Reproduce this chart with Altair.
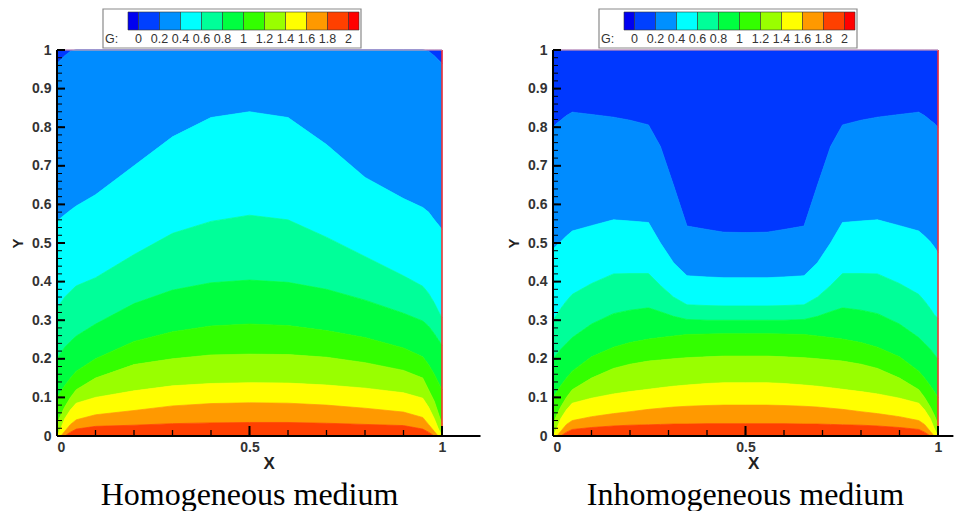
import altair as alt
import pandas as pd

# ---------------- data ----------------
levels = [0.2, 0.4, 0.6, 0.8, 1.0, 1.2, 1.4, 1.6, 1.8]
band_names = ["0-0.2", "0.2-0.4", "0.4-0.6", "0.6-0.8", "0.8-1", "1-1.2",
              "1.2-1.4", "1.4-1.6", "1.6-1.8", "1.8-2"]
band_colors = ["#0038ff", "#008cff", "#00ffff", "#00ff99", "#00ff40", "#33ff00",
               "#99ff00", "#ffff00", "#ff9900", "#ff4000"]

legend_edges = [-0.1, 0.0, 0.2, 0.4, 0.6, 0.8, 1.0, 1.2, 1.4, 1.6, 1.8, 2.0, 2.1]
legend_colors = ["#0000f0", "#0040ff", "#0090ff", "#00ffff", "#00ff99", "#00ff40",
                 "#33ff00", "#99ff00", "#ffff00", "#ff9900", "#ff4000", "#ff0000"]
legend_ticks = [0.0, 0.2, 0.4, 0.6, 0.8, 1.0, 1.2, 1.4, 1.6, 1.8, 2.0]
legend_labels = ["0", "0.2", "0.4", "0.6", "0.8", "1", "1.2", "1.4", "1.6", "1.8", "2"]

# Homogeneous medium: contour line heights (y) of each G level along x
xL = [0, 0.01, 0.02, 0.035, 0.05, 0.1, 0.2, 0.3, 0.4, 0.5, 0.6, 0.7, 0.8, 0.9,
      0.95, 0.965, 0.98, 0.99, 1.0]
contL = {
    0.2: [0.965, 0.975, 0.985, 0.997, 1, 1, 1, 1, 1, 1, 1, 1, 1, 1, 1, 0.997, 0.985, 0.975, 0.965],
    0.4: [0.557, 0.565, 0.573, 0.585, 0.596, 0.625, 0.70, 0.775, 0.825, 0.84, 0.825, 0.755,
          0.67, 0.615, 0.592, 0.58, 0.56, 0.548, 0.535],
    0.6: [0.33, 0.345, 0.36, 0.375, 0.389, 0.41, 0.47, 0.525, 0.556, 0.572, 0.56, 0.515,
          0.465, 0.415, 0.388, 0.37, 0.345, 0.325, 0.306],
    0.8: [0.2, 0.215, 0.23, 0.245, 0.259, 0.29, 0.343, 0.378, 0.397, 0.404, 0.398, 0.38,
          0.352, 0.318, 0.298, 0.285, 0.265, 0.25, 0.235],
    1.0: [0.1, 0.115, 0.13, 0.15, 0.168, 0.2, 0.245, 0.27, 0.285, 0.29, 0.286, 0.273,
          0.255, 0.228, 0.205, 0.185, 0.16, 0.14, 0.12],
    1.2: [0.03, 0.055, 0.075, 0.1, 0.12, 0.15, 0.185, 0.2, 0.21, 0.212, 0.211, 0.204,
          0.19, 0.17, 0.15, 0.12, 0.09, 0.06, 0.03],
    1.4: [0.0, 0.02, 0.045, 0.068, 0.085, 0.1, 0.117, 0.13, 0.136, 0.138, 0.137, 0.132,
          0.124, 0.112, 0.098, 0.075, 0.045, 0.02, 0.0],
    1.6: [0.0, 0.0, 0.012, 0.03, 0.042, 0.055, 0.066, 0.078, 0.084, 0.086, 0.085, 0.08,
          0.072, 0.062, 0.048, 0.03, 0.012, 0.0, 0.0],
    1.8: [0.0, 0.0, 0.0, 0.01, 0.018, 0.025, 0.028, 0.032, 0.034, 0.035, 0.035, 0.033,
          0.03, 0.027, 0.018, 0.01, 0.0, 0.0, 0.0],
}

# Inhomogeneous medium
xR = [0, 0.01, 0.02, 0.035, 0.05, 0.1, 0.157, 0.2, 0.248, 0.279, 0.313, 0.348, 0.4,
      0.444, 0.5, 0.556, 0.6, 0.652, 0.687, 0.721, 0.752, 0.8, 0.843, 0.9, 0.95, 0.965,
      0.98, 0.99, 1.0]
contR = {
    0.2: [0.80, 0.81, 0.818, 0.83, 0.839, 0.833, 0.826, 0.818, 0.806, 0.75, 0.65, 0.544,
          0.535, 0.528, 0.527, 0.528, 0.535, 0.544, 0.65, 0.75, 0.806, 0.818, 0.826, 0.833,
          0.839, 0.83, 0.818, 0.81, 0.80],
    0.4: [0.484, 0.494, 0.503, 0.518, 0.531, 0.545, 0.56, 0.557, 0.553, 0.5, 0.449, 0.415,
          0.412, 0.41, 0.41, 0.41, 0.412, 0.415, 0.449, 0.5, 0.553, 0.557, 0.56, 0.545,
          0.531, 0.518, 0.503, 0.49, 0.475],
    0.6: [0.30, 0.315, 0.33, 0.35, 0.367, 0.395, 0.42, 0.421, 0.421, 0.39, 0.36, 0.34,
          0.338, 0.337, 0.337, 0.337, 0.338, 0.34, 0.36, 0.39, 0.421, 0.421, 0.42, 0.395,
          0.367, 0.35, 0.33, 0.315, 0.305],
    0.8: [0.20, 0.212, 0.225, 0.24, 0.255, 0.29, 0.317, 0.326, 0.332, 0.322, 0.31, 0.302,
          0.3, 0.3, 0.3, 0.3, 0.3, 0.302, 0.31, 0.322, 0.332, 0.326, 0.317, 0.29, 0.255,
          0.24, 0.225, 0.212, 0.20],
    1.0: [0.10, 0.115, 0.13, 0.15, 0.168, 0.205, 0.23, 0.242, 0.251, 0.255, 0.259, 0.263,
          0.264, 0.265, 0.265, 0.265, 0.264, 0.263, 0.259, 0.255, 0.251, 0.242, 0.23, 0.205,
          0.168, 0.15, 0.13, 0.115, 0.10],
    1.2: [0.03, 0.055, 0.075, 0.1, 0.12, 0.15, 0.175, 0.186, 0.194, 0.197, 0.2, 0.203,
          0.205, 0.207, 0.207, 0.207, 0.205, 0.203, 0.2, 0.197, 0.194, 0.186, 0.175, 0.15,
          0.12, 0.1, 0.075, 0.055, 0.03],
    1.4: [0.0, 0.02, 0.045, 0.068, 0.085, 0.098, 0.109, 0.115, 0.121, 0.125, 0.129, 0.132,
          0.136, 0.138, 0.138, 0.138, 0.136, 0.132, 0.129, 0.125, 0.121, 0.115, 0.109, 0.098,
          0.085, 0.068, 0.045, 0.02, 0.0],
    1.6: [0.0, 0.0, 0.012, 0.03, 0.04, 0.05, 0.058, 0.063, 0.069, 0.072, 0.075, 0.077,
          0.079, 0.08, 0.08, 0.08, 0.079, 0.077, 0.075, 0.072, 0.069, 0.063, 0.058, 0.05,
          0.04, 0.03, 0.012, 0.0, 0.0],
    1.8: [0.0, 0.0, 0.0, 0.01, 0.017, 0.022, 0.026, 0.028, 0.029, 0.03, 0.031, 0.031,
          0.032, 0.032, 0.032, 0.032, 0.032, 0.031, 0.031, 0.03, 0.029, 0.028, 0.026, 0.022,
          0.017, 0.01, 0.0, 0.0, 0.0],
}

y_major = [0, 0.1, 0.2, 0.3, 0.4, 0.5, 0.6, 0.7, 0.8, 0.9, 1]
y_minor = [round(i * 0.02, 2) for i in range(51)]
x_major = [0, 0.5, 1]
x_minor = [0, 0.1, 0.2, 0.3, 0.4, 0.5, 0.6, 0.7, 0.8, 0.9, 1]

# ---------------- layout ----------------
U = 385.0      # pixels per unit of x
H = 386        # plot height
LPX = 105.0    # legend pixels per G unit
LEG_START = 71.0  # legend boxes start (px from plot left)

LABEL_FONT = "Liberation Sans"


def band_frame(xs, cont):
    rows = []
    n = len(xs)
    for i, name in enumerate(band_names):
        hi = [1.0] * n if i == 0 else cont[levels[i - 1]]
        lo = cont[levels[i]] if i < len(levels) else [0.0] * n
        for x, a, b in zip(xs, lo, hi):
            rows.append({"x": x, "lo": a, "hi": b, "band": name})
    return pd.DataFrame(rows)


def panel(xs, cont, xmax, caption):
    W = U * xmax
    xsc = alt.Scale(domain=[0, xmax], nice=False, zero=False)
    ysc = alt.Scale(domain=[0, 1], nice=False, zero=False)
    d0 = -0.1 - LEG_START / LPX
    lsc = alt.Scale(domain=[d0, d0 + W / LPX], nice=False, zero=False)

    df = band_frame(xs, cont)
    cscale = alt.Scale(domain=band_names, range=band_colors)
    bands = alt.Chart(df).mark_area(interpolate="linear", strokeWidth=0.7).encode(
        x=alt.X("x:Q", scale=xsc, axis=None),
        y=alt.Y("hi:Q", scale=ysc, axis=None),
        y2="lo:Q",
        color=alt.Color("band:N", scale=cscale, legend=None),
        stroke=alt.Stroke("band:N", scale=cscale, legend=None),
    )

    right_border = alt.Chart(pd.DataFrame({"x": [1.0]})).mark_rule(
        color="#ff2a2a", strokeWidth=1.5).encode(
        x=alt.X("x:Q", scale=xsc, axis=None), y=alt.value(0), y2=alt.value(H))
    top_border = alt.Chart(pd.DataFrame({"x0": [0.0], "x1": [1.0], "y": [1.0]})).mark_rule(
        color="#f5a3a3", strokeWidth=1).encode(
        x=alt.X("x0:Q", scale=xsc, axis=None), x2="x1:Q",
        y=alt.Y("y:Q", scale=ysc, axis=None))

    # axis lines and inward ticks
    yline = alt.Chart(pd.DataFrame({"a": [0.0], "b": [1.0]})).mark_rule(
        color="black", strokeWidth=2).encode(
        x=alt.value(0), y=alt.Y("a:Q", scale=ysc, axis=None), y2="b:Q")
    xline = alt.Chart(pd.DataFrame({"a": [0.0], "b": [xmax]})).mark_rule(
        color="black", strokeWidth=2).encode(
        x=alt.X("a:Q", scale=xsc, axis=None), x2="b:Q", y=alt.value(H))
    ytmin = alt.Chart(pd.DataFrame({"t": y_minor})).mark_rule(
        color="black", strokeWidth=1).encode(
        y=alt.Y("t:Q", scale=ysc, axis=None), x=alt.value(0), x2=alt.value(5))
    ytmaj = alt.Chart(pd.DataFrame({"t": y_major})).mark_rule(
        color="black", strokeWidth=2).encode(
        y=alt.Y("t:Q", scale=ysc, axis=None), x=alt.value(0), x2=alt.value(8))
    xtmin = alt.Chart(pd.DataFrame({"t": x_minor})).mark_rule(
        color="black", strokeWidth=1.3).encode(
        x=alt.X("t:Q", scale=xsc, axis=None), y=alt.value(H), y2=alt.value(H - 6))
    xtmaj = alt.Chart(pd.DataFrame({"t": x_major})).mark_rule(
        color="black", strokeWidth=2).encode(
        x=alt.X("t:Q", scale=xsc, axis=None), y=alt.value(H), y2=alt.value(H - 10))

    lab = alt.Chart(pd.DataFrame({"t": y_major})).mark_point(opacity=0).encode(
        y=alt.Y("t:Q", scale=ysc, axis=alt.Axis(
            orient="left", values=y_major, ticks=False, tickSize=0, domain=False,
            grid=False, format="~g", labelFont=LABEL_FONT, labelFontSize=14,
            labelFontWeight="bold", labelColor="#333333", labelPadding=6,
            title="Y", titleFont=LABEL_FONT, titleFontSize=15, titleFontWeight="bold",
            titleColor="#222222", titlePadding=6)),
        x=alt.X("t:Q", scale=xsc, axis=alt.Axis(
            orient="bottom", values=x_major, ticks=False, tickSize=0, domain=False,
            grid=False, format="~g", labelFont=LABEL_FONT, labelFontSize=14,
            labelFontWeight="bold", labelColor="#333333", labelPadding=4,
            title="X", titleFont=LABEL_FONT, titleFontSize=17, titleFontWeight="bold",
            titleColor="#222222", titlePadding=1)),
    )

    # colour legend above the plot
    fl = -0.1 - 25 / LPX
    fr = 2.1 + 2 / LPX
    frame = alt.Chart(pd.DataFrame({"a": [fl], "b": [fr]})).mark_rect(
        fill="white", stroke="#8a8a8a", strokeWidth=1.2).encode(
        x=alt.X("a:Q", scale=lsc, axis=None), x2="b:Q",
        y=alt.value(-41), y2=alt.value(-2))
    boxes = alt.Chart(pd.DataFrame({"a": legend_edges[:-1], "b": legend_edges[1:],
                                    "c": legend_colors})).mark_rect(
        stroke="#333333", strokeWidth=0.6).encode(
        x=alt.X("a:Q", scale=lsc, axis=None), x2="b:Q",
        y=alt.value(-38), y2=alt.value(-20),
        color=alt.Color("c:N", scale=None, legend=None))
    ltext = alt.Chart(pd.DataFrame({"v": legend_ticks, "t": legend_labels})).mark_text(
        font=LABEL_FONT, fontSize=12.5, color="#333333", baseline="middle").encode(
        x=alt.X("v:Q", scale=lsc, axis=None), y=alt.value(-11), text="t:N")
    gtext = alt.Chart(pd.DataFrame({"v": [fl + 2 / LPX], "t": ["G:"]})).mark_text(
        font=LABEL_FONT, fontSize=12.5, color="#333333", baseline="middle",
        align="left").encode(
        x=alt.X("v:Q", scale=lsc, axis=None), y=alt.value(-11), text="t:N")

    cap = alt.Chart(pd.DataFrame({"x": [0.5], "t": [caption]})).mark_text(
        font="Liberation Serif", fontSize=32, color="black", baseline="alphabetic").encode(
        x=alt.X("x:Q", scale=xsc, axis=None), y=alt.value(455), text="t:N")

    return alt.layer(
        bands, right_border, top_border, yline, xline, ytmin, ytmaj, xtmin, xtmaj,
        lab, frame, boxes, ltext, gtext, cap
    ).resolve_scale(x="independent", y="independent").properties(width=W, height=H)


left = panel(xL, contL, 1.1, "Homogeneous medium")
right = panel(xR, contR, 1.04, "Inhomogeneous medium")

chart = alt.hconcat(left, right, spacing=24).properties(
    padding={"left": 2, "top": 0, "right": 0, "bottom": 0}
).configure_view(stroke=None)

chart.save("out.html", embed_options={"renderer": "svg", "actions": False})
